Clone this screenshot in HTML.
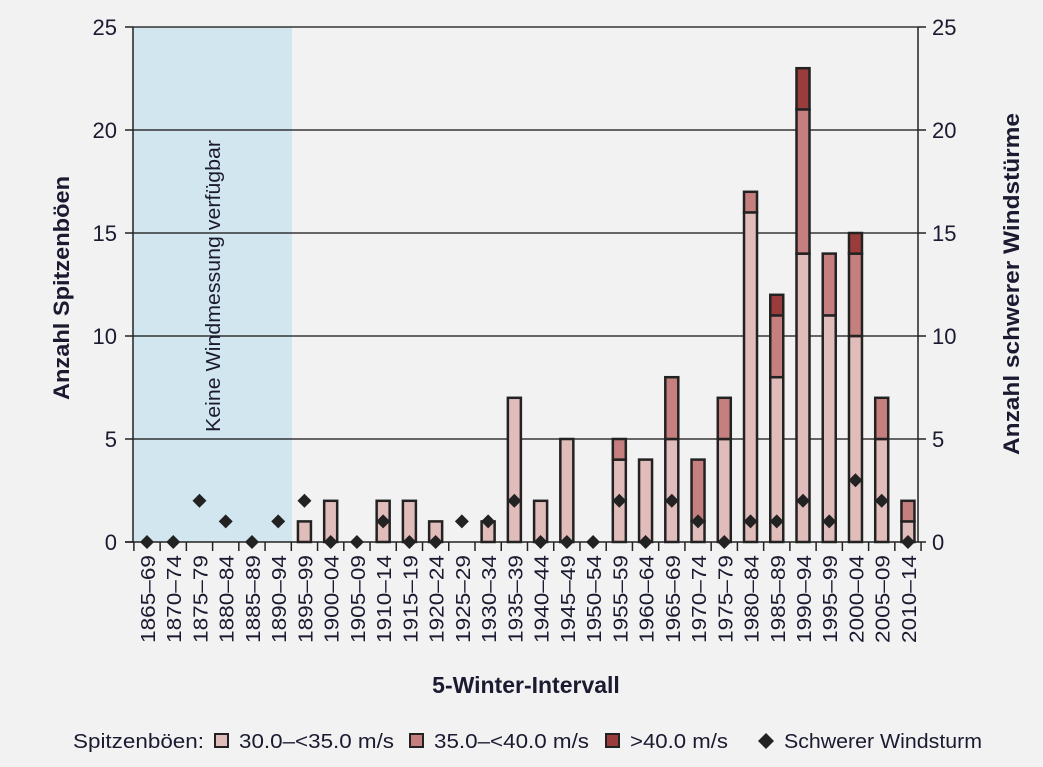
<!DOCTYPE html>
<html><head><style>body{margin:0;background:#f2f2f2}svg{display:block}text{font-family:"Liberation Sans",sans-serif;fill:#1a1a30}</style></head><body>
<svg id="s" width="1043" height="767" xmlns="http://www.w3.org/2000/svg"></svg>
<script>
const s=document.getElementById('s');let h='';
const X0=133,X1=918,Y0=542,k=20.6,step=26.24;
const cx=i=>147+step*i, y=v=>Y0-k*v;
h+=`<rect width="1043" height="767" fill="#f2f2f2"/>`;
h+=`<rect x="${X0}" y="27" width="${292-X0}" height="${Y0-27}" fill="#d2e6f0"/>`;
for(let v=5;v<=25;v+=5)h+=`<line x1="${X0}" x2="${X1}" y1="${y(v)}" y2="${y(v)}" stroke="#111" stroke-width="1.2"/>`;
h+=`<line x1="${X0}" x2="${X0}" y1="27" y2="${Y0}" stroke="#222" stroke-width="1.5"/><line x1="${X1}" x2="${X1}" y1="27" y2="${Y0}" stroke="#222" stroke-width="1.5"/>`;
for(let v=0;v<=25;v+=5){h+=`<line x1="${X0-8}" x2="${X0}" y1="${y(v)}" y2="${y(v)}" stroke="#222" stroke-width="1.5"/><line x1="${X1}" x2="${X1+8}" y1="${y(v)}" y2="${y(v)}" stroke="#222" stroke-width="1.5"/>`;
h+=`<text x="${X0-16}" y="${y(v)+8}" font-size="22" text-anchor="end">${v}</text><text x="${X1+14}" y="${y(v)+8}" font-size="22">${v}</text>`;}
const D=[[0,0,0,0],[0,0,0,0],[0,0,0,2],[0,0,0,1],[0,0,0,0],[0,0,0,1],[1,0,0,2],[2,0,0,0],[0,0,0,0],[2,0,0,1],[2,0,0,0],[1,0,0,0],[0,0,0,1],[1,0,0,1],[7,0,0,2],[2,0,0,0],[5,0,0,0],[0,0,0,0],[4,1,0,2],[4,0,0,0],[5,3,0,2],[1,3,0,1],[5,2,0,0],[16,1,0,1],[8,3,1,1],[14,7,2,2],[11,3,0,1],[10,4,1,3],[5,2,0,2],[1,1,0,0]];
const C=['#e0bcbb','#c47f7e','#9a3c3c'];
D.forEach((d,i)=>{const c=cx(i);let b=0;for(let j=0;j<3;j++){if(d[j]){h+=`<rect x="${c-6.5}" y="${y(b+d[j])}" width="13" height="${k*d[j]}" fill="${C[j]}" stroke="#222" stroke-width="2.5"/>`;b+=d[j];}}
const lab=(1865+5*i)+'–'+String((1869+5*i)%100).padStart(2,'0');
h+=`<text transform="translate(${c+8},555) rotate(-90)" font-size="20" text-anchor="end" textLength="88" lengthAdjust="spacingAndGlyphs">${lab}</text>`;});
h+=`<line x1="${X0-8}" x2="${X1}" y1="${Y0}" y2="${Y0}" stroke="#222" stroke-width="1.5"/>`;
for(let i=0;i<=30;i++){const x=cx(i)-step/2;h+=`<line x1="${x}" x2="${x}" y1="${Y0}" y2="${Y0+9}" stroke="#222" stroke-width="1.5"/>`;}
D.forEach((d,i)=>{const c=cx(i),yy=y(d[3]);h+=`<path d="M${c} ${yy-7}L${c+7} ${yy}L${c} ${yy+7}L${c-7} ${yy}Z" fill="#222"/>`;});
h+=`<text transform="translate(220,432) rotate(-90)" font-size="20" textLength="292" lengthAdjust="spacingAndGlyphs">Keine Windmessung verfügbar</text>`;
h+=`<text transform="translate(69,288) rotate(-90)" font-size="22" font-weight="bold" text-anchor="middle" textLength="224" lengthAdjust="spacingAndGlyphs">Anzahl Spitzenböen</text>`;
h+=`<text transform="translate(1019,284) rotate(-90)" font-size="22" font-weight="bold" text-anchor="middle" textLength="342" lengthAdjust="spacingAndGlyphs">Anzahl schwerer Windstürme</text>`;
h+=`<text x="526" y="693" font-size="23" font-weight="bold" text-anchor="middle">5-Winter-Intervall</text>`;
h+=`<text x="73" y="748" font-size="20" textLength="131" lengthAdjust="spacingAndGlyphs">Spitzenböen:</text>`;
[[215,C[0],'30.0–&lt;35.0 m/s',155],[410,C[1],'35.0–&lt;40.0 m/s',155],[606,C[2],'&gt;40.0 m/s',98]].forEach(([x,c,t,w])=>{h+=`<rect x="${x}" y="734" width="13" height="13" fill="${c}" stroke="#222" stroke-width="2"/><text x="${x+24}" y="748" font-size="20" textLength="${w}" lengthAdjust="spacingAndGlyphs">${t}</text>`;});
h+=`<path d="M766 733L774 741L766 749L758 741Z" fill="#222"/><text x="784" y="748" font-size="20" textLength="198" lengthAdjust="spacingAndGlyphs">Schwerer Windsturm</text>`;
s.innerHTML=h;
</script></body></html>
